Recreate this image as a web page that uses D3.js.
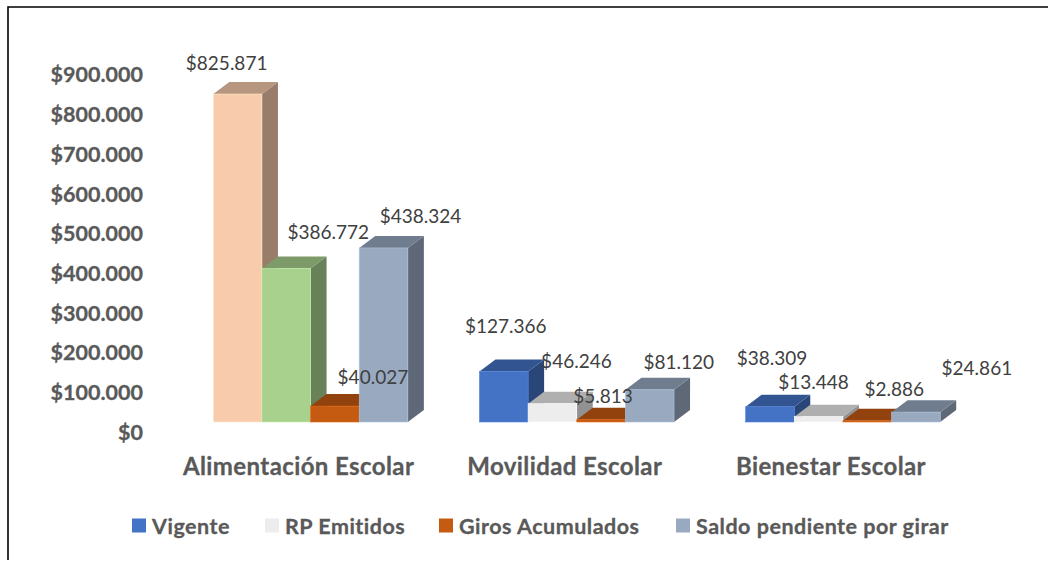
<!DOCTYPE html>
<html>
<head>
<meta charset="utf-8">
<script src="https://cdn.jsdelivr.net/npm/d3@7"></script>
<style>
body { margin: 0; background: #fff; }
svg { display: block; font-family: Lato, "Open Sans", sans-serif; }
.axis path, .axis line { display: none; }
.axis text { font-size: 21.5px; font-weight: 700; fill: #595959; stroke: #595959; stroke-width: 0.3px; font-family: Lato, sans-serif; }
.cat text { font-size: 24px; letter-spacing: 0.4px; }
.val { font-size: 19px; fill: #404040; }
.leg { font-size: 21.5px; font-weight: 700; fill: #595959; stroke: #595959; stroke-width: 0.3px; letter-spacing: 0.5px; }
</style>
</head>
<body>
<svg id="chart" width="1048" height="561"></svg>
<script>
var categories = ["Alimentación Escolar", "Movilidad Escolar", "Bienestar Escolar"];
var seriesNames = ["Vigente", "RP Emitidos", "Giros Acumulados", "Saldo pendiente por girar"];
var vigente = [825871, 127366, 38309];
var rpEmitidos = [386772, 46246, 13448];
var giros = [40027, 5813, 2886];
var saldo = [438324, 81120, 24861];
var yTicks = [0, 100000, 200000, 300000, 400000, 500000, 600000, 700000, 800000, 900000];

// colors per series, first group has its own for the first two bars
var seriesColors = ["#4472C4", "#EDEDED", "#C55A11", "#98A9C0"];
var firstGroupColors = ["#F8CBAD", "#A9D18E", "#C55A11", "#98A9C0"];

// hand placed data labels (center of text, relative to front top of bar)
var labelDx = [
	[-11, 42, 38, 37],
	[2, 24, 2, 29],
	[2, -5, 27, 61]
];
var labelDy = [
	[-32, -37, -30, -32],
	[-46, -43, -24, -28],
	[-49, -35, -32, -45]
];

var values = [vigente, rpEmitidos, giros, saldo];
var depthX = 16, depthY = 12;

var svg = d3.select("#chart");

function fmt(v) {
	return "$" + d3.format(",")(v).replace(/,/g, ".");
}

// frame, only left and top sides are in the original
svg.append("path")
	.attr("d", "M8,560V7H1048")
	.attr("fill", "none")
	.attr("stroke", "#000")
	.attr("stroke-width", 1.6);

var y = d3.scaleLinear().domain([0, 900000]).range([422, 64.6]);

var x0 = d3.scaleBand()
	.domain(categories)
	.range([177.5, 976])
	.paddingInner(0.269)
	.paddingOuter(0.1345);

var x1 = d3.scaleBand()
	.domain(seriesNames)
	.range([0, x0.bandwidth()]);

// y axis, labels sit a bit below the bars floor in the original
var yAxis = d3.axisLeft(y)
	.tickValues(yTicks)
	.tickSize(0)
	.tickPadding(0)
	.tickFormat(fmt);

svg.append("g")
	.attr("class", "axis")
	.attr("transform", "translate(143,10.5)")
	.call(yAxis);

var xAxis = d3.axisBottom(x0).tickSize(0).tickPadding(0);

var xg = svg.append("g")
	.attr("class", "axis cat")
	.attr("transform", "translate(-12,457.5)")
	.call(xAxis);

// bars are drawn left to right so the next one covers the side of the previous
categories.forEach(function(cat, c) {
	seriesNames.forEach(function(name, s) {
		var v = values[s][c];
		var col = d3.color(c == 0 ? firstGroupColors[s] : seriesColors[s]);
		var bx = x0(cat) + x1(name);
		var w = x1.bandwidth();
		var top = y(v);
		var base = y(0);
		var g = svg.append("g").attr("class", "bar");

		g.append("path")
			.attr("d", d3.line()([[bx + w, top], [bx + w + depthX, top - depthY], [bx + w + depthX, base - depthY], [bx + w, base]]) + "Z")
			.attr("fill", col.darker(1.35));
		g.append("path")
			.attr("d", d3.line()([[bx, top], [bx + depthX, top - depthY], [bx + w + depthX, top - depthY], [bx + w, top]]) + "Z")
			.attr("fill", col.darker(0.85));
		g.append("rect")
			.attr("x", bx)
			.attr("y", top)
			.attr("width", w)
			.attr("height", base - top)
			.attr("fill", col)
			.attr("stroke", col.brighter(0.4))
			.attr("stroke-width", 0.6);
	});
});

// labels on top of all bars
categories.forEach(function(cat, c) {
	seriesNames.forEach(function(name, s) {
		var v = values[s][c];
		svg.append("text")
			.attr("class", "val")
			.attr("text-anchor", "middle")
			.attr("dominant-baseline", "central")
			.attr("x", x0(cat) + x1(name) + x1.bandwidth() / 2 + labelDx[c][s])
			.attr("y", y(v) + labelDy[c][s])
			.text(fmt(v));
	});
});

// legend
var legendX = [132, 265, 439, 676];
seriesNames.forEach(function(name, s) {
	var g = svg.append("g").attr("transform", "translate(" + legendX[s] + ",518.5)");
	g.append("rect")
		.attr("width", 14)
		.attr("height", 14)
		.attr("fill", seriesColors[s]);
	g.append("text")
		.attr("class", "leg")
		.attr("x", 20)
		.attr("y", 7)
		.attr("dominant-baseline", "central")
		.text(name);
});
</script>
</body>
</html>
